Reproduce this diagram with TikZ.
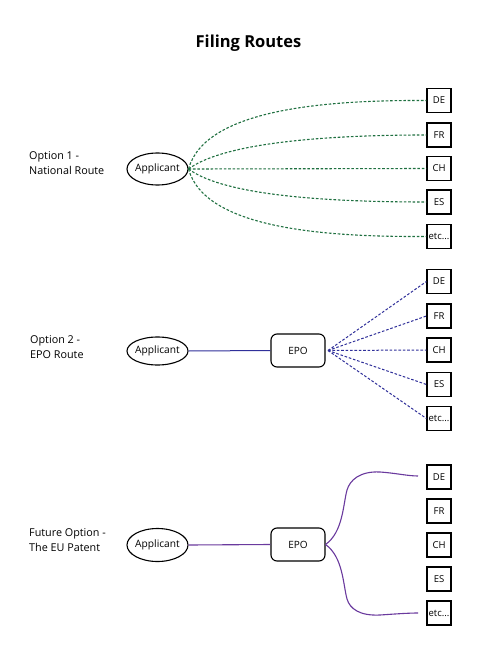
\documentclass[tikz,border=0pt]{standalone}
\usepackage{fontspec}
\setmainfont{Open Sans}
\usetikzlibrary{shapes.geometric}
\definecolor{grn}{HTML}{1F7040}
\definecolor{blu}{HTML}{30309A}
\definecolor{pur}{HTML}{6A3A9E}
\newcommand{\applbl}{\makebox[20pt][c]{Applicant}}
\tikzset{
  ctry/.style={draw, line width=1.1pt, minimum width=24pt, minimum height=24pt, inner sep=0pt, font=\fontsize{9.5}{10}\selectfont},
  appl/.style={draw, ellipse, line width=1.1pt, minimum width=61pt, inner sep=0pt, font=\fontsize{10.2}{11}\selectfont},
  epobox/.style={draw, rounded corners=6pt, line width=1.1pt, minimum width=54pt, minimum height=33pt, font=\fontsize{10}{11}\selectfont},
  optlbl/.style={anchor=west, align=left, inner sep=0pt, font=\fontsize{10.8}{15}\selectfont},
  gdash/.style={grn, line width=1.1pt, dash pattern=on 2.6pt off 1.8pt},
  bdash/.style={blu, line width=1pt, dash pattern=on 2.6pt off 1.8pt},
  bline/.style={blu, line width=1pt},
  pline/.style={pur, line width=1.1pt},
}
\begin{document}
\begin{tikzpicture}[x=1pt,y=-1pt]
\useasboundingbox[fill=white] (0,0) rectangle (487,663);
\node[font=\fontsize{16.5}{18}\selectfont\bfseries] (title) at (248.5,43) {Filing Routes};

% Section 1
\node[optlbl] (o1) at (29,163.5) {Option 1 -\\National Route};
\node[appl, minimum height=32pt] (a1) at (157.5,169) {\applbl};
\node[ctry] (de1) at (439,100.5) {DE};
\node[ctry] (fr1) at (439,135) {FR};
\node[ctry] (ch1) at (439,168.5) {CH};
\node[ctry] (es1) at (439,202) {ES};
\node[ctry] (et1) at (439,236.5) {etc...};
\draw[gdash] (a1.east) .. controls (205,108) and (330,100) .. (de1.west);
\draw[gdash] (a1.east) .. controls (225,142) and (330,135) .. (fr1.west);
\draw[gdash] (a1.east) -- (ch1.west);
\draw[gdash] (a1.east) .. controls (225,196) and (330,202) .. (es1.west);
\draw[gdash] (a1.east) .. controls (205,230) and (330,237) .. (et1.west);

% Section 2
\node[optlbl] (o2) at (30,347) {Option 2 -\\EPO Route};
\node[appl, minimum height=28pt] (a2) at (157.5,351) {\applbl};
\node[epobox] (e2) at (298,350.5) {EPO};
\node[ctry] (de2) at (439,281.5) {DE};
\node[ctry] (fr2) at (439,316) {FR};
\node[ctry] (ch2) at (439,350) {CH};
\node[ctry] (es2) at (439,384.5) {ES};
\node[ctry] (et2) at (439,418.5) {etc...};
\draw[bline] (a2.east) -- (e2.west);
\coordinate (h2) at (328,350.5);
\foreach \t in {de2,fr2,ch2,es2,et2} \draw[bdash] (h2) -- (\t.west);

% Section 3
\node[optlbl] (o3) at (29,540) {Future Option -\\The EU Patent};
\node[appl, minimum height=33pt] (a3) at (157.5,545) {\applbl};
\node[epobox] (e3) at (298,544.5) {EPO};
\node[ctry] (de3) at (439,477) {DE};
\node[ctry] (fr3) at (439,511) {FR};
\node[ctry] (ch3) at (439,545) {CH};
\node[ctry] (es3) at (439,579) {ES};
\node[ctry] (et3) at (439,613) {etc...};
\coordinate (d3) at (418,476);
\coordinate (t3) at (418,613);
\draw[pline] (a3.east) -- (e3.west);
\draw[pline] (e3.east) .. controls (343,532) and (343,505) .. (347,490)
  .. controls (350,480) and (360,471) .. (380,472) .. controls (395,473) and (408,476) .. (d3);
\draw[pline] (e3.east) .. controls (343,557) and (343,584) .. (347,599)
  .. controls (350,609) and (360,616) .. (380,615) .. controls (395,614) and (408,613) .. (t3);
\end{tikzpicture}
\end{document}
